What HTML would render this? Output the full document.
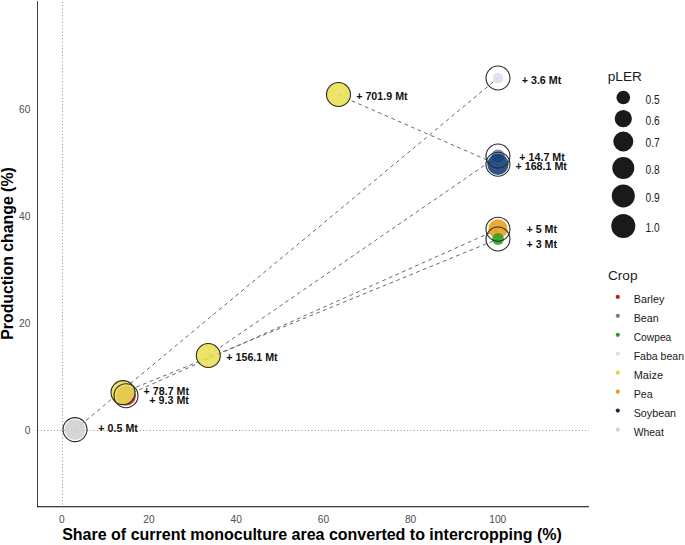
<!DOCTYPE html>
<html><head><meta charset="utf-8">
<style>
html,body{margin:0;padding:0;background:#fff;}
svg{display:block;font-family:"Liberation Sans",sans-serif;}
</style></head>
<body>
<svg width="685" height="545" viewBox="0 0 685 545">
<rect width="685" height="545" fill="#fff"/>
<!-- reference lines -->
<g stroke="#8c8c8c" stroke-width="1" stroke-dasharray="1 2.3" fill="none">
<line x1="37.5" y1="430.5" x2="589" y2="430.5"/>
<line x1="62.5" y1="2" x2="62.5" y2="506"/>
</g>
<!-- dashed connection lines -->
<g stroke="#6a6a6a" stroke-width="1" stroke-dasharray="3.8 3.4" fill="none">
<line x1="75" y1="429.6" x2="498" y2="78"/>
<line x1="126" y1="395.7" x2="498" y2="229.2"/>
<line x1="123" y1="392.6" x2="498" y2="239"/>
<line x1="208.3" y1="355.5" x2="498" y2="156"/>
<line x1="338.5" y1="95" x2="498" y2="164.8"/>
</g>
<!-- filled points -->
<g fill-opacity="0.87">
<circle cx="75" cy="429.6" r="10.3" fill="#d0d0d0"/>
<circle cx="126" cy="395.7" r="9.9" fill="#b41a1a"/>
<circle cx="123" cy="392.6" r="12.3" fill="#eadf55"/>
<circle cx="208.3" cy="355.5" r="12.2" fill="#eadf55"/>
<circle cx="338.5" cy="94.5" r="12.2" fill="#eadf55"/>
<circle cx="498" cy="78" r="5.2" fill="#dcdcf5"/>
<circle cx="498" cy="156" r="6.6" fill="#62799a"/>
<circle cx="498" cy="164.3" r="10.6" fill="#0e3a78"/>
<circle cx="498" cy="228.9" r="9.6" fill="#e99c18"/>
<circle cx="498" cy="239" r="5.9" fill="#25a01e"/>
</g>
<!-- hollow outlines -->
<g stroke="#2a2a2a" stroke-width="1.1" fill="none">
<circle cx="75" cy="429.6" r="12"/>
<circle cx="123" cy="392.6" r="12"/>
<circle cx="126" cy="395.7" r="12"/>
<circle cx="208.3" cy="355.5" r="12"/>
<circle cx="338.5" cy="94.5" r="12"/>
<circle cx="498" cy="78" r="12"/>
<circle cx="498" cy="156" r="12"/>
<circle cx="498" cy="164.2" r="12"/>
<circle cx="498" cy="229.2" r="12"/>
<circle cx="498" cy="239" r="12"/>
</g>
<!-- value labels -->
<g font-weight="bold" font-size="10.7" fill="#111" text-anchor="middle">
<text x="118.1" y="431.7">+ 0.5 Mt</text>
<text x="166.3" y="394.7">+ 78.7 Mt</text>
<text x="169.1" y="403.7">+ 9.3 Mt</text>
<text x="252" y="360.7">+ 156.1 Mt</text>
<text x="381.9" y="100.1">+ 701.9 Mt</text>
<text x="541.5" y="83.8">+ 3.6 Mt</text>
<text x="542.1" y="161.3">+ 14.7 Mt</text>
<text x="541.2" y="170.1">+ 168.1 Mt</text>
<text x="541.8" y="232.9">+ 5 Mt</text>
<text x="541.8" y="247.6">+ 3 Mt</text>
</g>
<!-- axes -->
<line x1="37.5" y1="1" x2="37.5" y2="507" stroke="#000" stroke-width="0.75"/>
<line x1="37" y1="506.75" x2="589" y2="506.75" stroke="#000" stroke-width="1"/>
<!-- tick labels -->
<g font-size="11.7" fill="#4d4d4d">
<g text-anchor="end">
<text x="30.4" y="434" textLength="5.66" lengthAdjust="spacingAndGlyphs">0</text>
<text x="30.4" y="327" textLength="11.32" lengthAdjust="spacingAndGlyphs">20</text>
<text x="30.4" y="219.8" textLength="11.32" lengthAdjust="spacingAndGlyphs">40</text>
<text x="30.4" y="112.5" textLength="11.32" lengthAdjust="spacingAndGlyphs">60</text>
</g>
<g text-anchor="middle">
<text x="61.8" y="522.5" textLength="5.66" lengthAdjust="spacingAndGlyphs">0</text>
<text x="149" y="522.5" textLength="11.32" lengthAdjust="spacingAndGlyphs">20</text>
<text x="236.2" y="522.5" textLength="11.32" lengthAdjust="spacingAndGlyphs">40</text>
<text x="323.4" y="522.5" textLength="11.32" lengthAdjust="spacingAndGlyphs">60</text>
<text x="410.6" y="522.5" textLength="11.32" lengthAdjust="spacingAndGlyphs">80</text>
<text x="497.8" y="522.5" textLength="16.98" lengthAdjust="spacingAndGlyphs">100</text>
</g>
</g>
<!-- axis titles -->
<text x="312" y="540.2" font-size="16" font-weight="bold" fill="#000" text-anchor="middle">Share of current monoculture area converted to intercropping (%)</text>
<text transform="translate(13.3,253.5) rotate(-90)" font-size="15.85" font-weight="bold" fill="#000" text-anchor="middle">Production change (%)</text>
<!-- legend pLER -->
<text x="607.8" y="81.4" font-size="13.6" fill="#1a1a1a">pLER</text>
<g fill="#1a1a1a">
<circle cx="623.3" cy="97.5" r="6.8"/>
<circle cx="623.3" cy="118.7" r="8.6"/>
<circle cx="623.3" cy="141.5" r="10"/>
<circle cx="623.3" cy="168" r="11"/>
<circle cx="623.3" cy="195.9" r="11.5"/>
<circle cx="623.3" cy="226" r="12"/>
</g>
<g font-size="12" fill="#1a1a1a">
<text x="645.6" y="104.1" textLength="14.2" lengthAdjust="spacingAndGlyphs">0.5</text>
<text x="645.6" y="124.8" textLength="14.2" lengthAdjust="spacingAndGlyphs">0.6</text>
<text x="645.6" y="147.3" textLength="14.2" lengthAdjust="spacingAndGlyphs">0.7</text>
<text x="645.6" y="173.6" textLength="14.2" lengthAdjust="spacingAndGlyphs">0.8</text>
<text x="645.6" y="201.6" textLength="14.2" lengthAdjust="spacingAndGlyphs">0.9</text>
<text x="645.6" y="232.4" textLength="14.2" lengthAdjust="spacingAndGlyphs">1.0</text>
</g>
<!-- legend Crop -->
<text x="608" y="280.3" font-size="13.6" fill="#1a1a1a">Crop</text>
<g>
<circle cx="617.8" cy="296.90" r="2.1" fill="#b22222"/>
<circle cx="617.8" cy="315.85" r="2.1" fill="#6f7f90"/>
<circle cx="617.8" cy="334.80" r="2.1" fill="#2f9f2a"/>
<circle cx="617.8" cy="353.75" r="2.1" fill="#dcdcf5"/>
<circle cx="617.8" cy="372.70" r="2.1" fill="#e6d640"/>
<circle cx="617.8" cy="391.65" r="2.1" fill="#ee9a22"/>
<circle cx="617.8" cy="410.60" r="2.1" fill="#16295a"/>
<circle cx="617.8" cy="429.55" r="2.1" fill="#cfcfcf"/>
</g>
<g font-size="11" fill="#1a1a1a" lengthAdjust="spacingAndGlyphs">
<text x="633.7" y="302.85" textLength="30.6" lengthAdjust="spacingAndGlyphs">Barley</text>
<text x="633.7" y="321.80" textLength="25.1" lengthAdjust="spacingAndGlyphs">Bean</text>
<text x="633.7" y="340.75" textLength="37.6" lengthAdjust="spacingAndGlyphs">Cowpea</text>
<text x="633.7" y="359.70" textLength="50.3" lengthAdjust="spacingAndGlyphs">Faba bean</text>
<text x="633.7" y="378.65" textLength="29.3" lengthAdjust="spacingAndGlyphs">Maize</text>
<text x="633.7" y="397.60" textLength="19.0" lengthAdjust="spacingAndGlyphs">Pea</text>
<text x="633.7" y="416.55" textLength="42.4" lengthAdjust="spacingAndGlyphs">Soybean</text>
<text x="633.7" y="435.50" textLength="30.1" lengthAdjust="spacingAndGlyphs">Wheat</text>
</g>
</svg>
</body></html>
